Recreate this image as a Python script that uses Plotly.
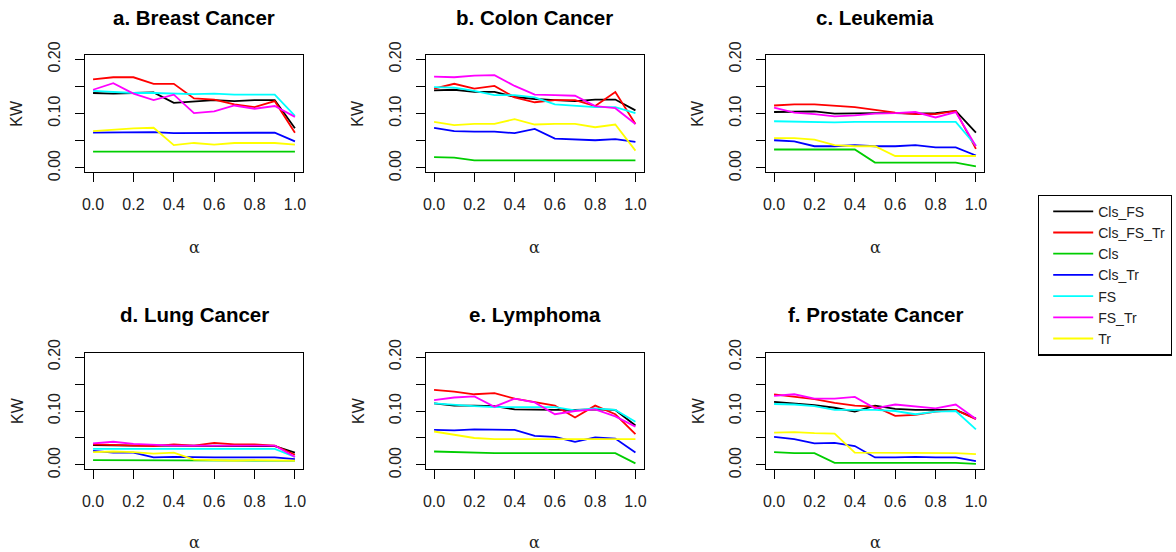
import plotly.graph_objects as go

alpha = [0.0, 0.1, 0.2, 0.3, 0.4, 0.5, 0.6, 0.7, 0.8, 0.9, 1.0]
series_names = ["Cls_FS", "Cls_FS_Tr", "Cls", "Cls_Tr", "FS", "FS_Tr", "Tr"]
series_colors = ["#000000", "#FF0000", "#00CD00", "#0000FF", "#00FFFF", "#FF00FF", "#FFFF00"]
panel_titles = ["a. Breast Cancer", "b. Colon Cancer", "c. Leukemia",
                "d. Lung Cancer", "e. Lymphoma", "f. Prostate Cancer"]
y_tick_vals = [0.0, 0.05, 0.10, 0.15, 0.20]
y_tick_text = ["0.00", "", "0.10", "", "0.20"]
x_tick_vals = [0.0, 0.2, 0.4, 0.6, 0.8, 1.0]
x_tick_text = ["0.0", "0.2", "0.4", "0.6", "0.8", "1.0"]

# a. Breast Cancer
breast_cls_fs    = [0.138, 0.137, 0.138, 0.139, 0.120, 0.123, 0.125, 0.123, 0.125, 0.125, 0.073]
breast_cls_fs_tr = [0.163, 0.167, 0.167, 0.155, 0.155, 0.128, 0.126, 0.117, 0.112, 0.123, 0.065]
breast_cls       = [0.030, 0.030, 0.030, 0.030, 0.030, 0.030, 0.030, 0.030, 0.030, 0.030, 0.030]
breast_cls_tr    = [0.065, 0.065, 0.065, 0.066, 0.064, 0.064, 0.064, 0.065, 0.065, 0.065, 0.049]
breast_fs        = [0.142, 0.140, 0.138, 0.138, 0.137, 0.136, 0.137, 0.135, 0.135, 0.135, 0.096]
breast_fs_tr     = [0.144, 0.156, 0.137, 0.125, 0.135, 0.101, 0.104, 0.115, 0.109, 0.114, 0.094]
breast_tr        = [0.068, 0.071, 0.073, 0.074, 0.042, 0.046, 0.043, 0.046, 0.046, 0.046, 0.043]

# b. Colon Cancer
colon_cls_fs    = [0.143, 0.144, 0.140, 0.140, 0.131, 0.127, 0.125, 0.123, 0.126, 0.126, 0.106]
colon_cls_fs_tr = [0.146, 0.155, 0.146, 0.151, 0.130, 0.121, 0.125, 0.125, 0.114, 0.140, 0.081]
colon_cls       = [0.020, 0.019, 0.014, 0.014, 0.014, 0.014, 0.014, 0.014, 0.014, 0.014, 0.014]
colon_cls_tr    = [0.074, 0.068, 0.067, 0.067, 0.064, 0.072, 0.054, 0.053, 0.051, 0.053, 0.048]
colon_fs        = [0.149, 0.148, 0.142, 0.134, 0.134, 0.130, 0.117, 0.114, 0.112, 0.112, 0.101]
colon_fs_tr     = [0.168, 0.167, 0.170, 0.171, 0.151, 0.135, 0.134, 0.133, 0.114, 0.110, 0.081]
colon_tr        = [0.085, 0.079, 0.081, 0.081, 0.090, 0.080, 0.081, 0.081, 0.075, 0.080, 0.032]

# c. Leukemia
leuk_cls_fs    = [0.103, 0.104, 0.104, 0.100, 0.101, 0.101, 0.101, 0.100, 0.101, 0.105, 0.065]
leuk_cls_fs_tr = [0.115, 0.117, 0.117, 0.115, 0.112, 0.107, 0.102, 0.099, 0.099, 0.105, 0.035]
leuk_cls       = [0.034, 0.034, 0.034, 0.034, 0.034, 0.010, 0.010, 0.010, 0.010, 0.010, 0.003]
leuk_cls_tr    = [0.051, 0.049, 0.040, 0.040, 0.042, 0.040, 0.040, 0.042, 0.038, 0.038, 0.023]
leuk_fs        = [0.086, 0.085, 0.085, 0.084, 0.085, 0.085, 0.085, 0.085, 0.085, 0.085, 0.041]
leuk_fs_tr     = [0.111, 0.102, 0.099, 0.095, 0.097, 0.100, 0.101, 0.103, 0.093, 0.103, 0.040]
leuk_tr        = [0.055, 0.055, 0.052, 0.042, 0.040, 0.040, 0.022, 0.022, 0.022, 0.022, 0.022]

# d. Lung Cancer
lung_cls_fs    = [0.037, 0.036, 0.036, 0.036, 0.036, 0.036, 0.036, 0.036, 0.035, 0.035, 0.023]
lung_cls_fs_tr = [0.038, 0.037, 0.037, 0.035, 0.038, 0.036, 0.041, 0.038, 0.038, 0.036, 0.019]
lung_cls       = [0.009, 0.009, 0.009, 0.009, 0.009, 0.009, 0.009, 0.009, 0.009, 0.009, 0.008]
lung_cls_tr    = [0.026, 0.023, 0.023, 0.014, 0.015, 0.014, 0.014, 0.014, 0.014, 0.014, 0.011]
lung_fs        = [0.030, 0.030, 0.030, 0.030, 0.030, 0.030, 0.030, 0.030, 0.030, 0.030, 0.015]
lung_fs_tr     = [0.040, 0.043, 0.039, 0.037, 0.036, 0.036, 0.036, 0.037, 0.037, 0.036, 0.015]
lung_tr        = [0.024, 0.025, 0.024, 0.021, 0.023, 0.010, 0.009, 0.008, 0.009, 0.009, 0.008]

# e. Lymphoma
lymph_cls_fs    = [0.114, 0.110, 0.110, 0.109, 0.103, 0.102, 0.102, 0.102, 0.103, 0.102, 0.073]
lymph_cls_fs_tr = [0.139, 0.136, 0.131, 0.133, 0.123, 0.117, 0.110, 0.088, 0.110, 0.094, 0.057]
lymph_cls       = [0.025, 0.024, 0.022, 0.022, 0.022, 0.022, 0.022, 0.022, 0.022, 0.022, 0.003]
lymph_cls_tr    = [0.065, 0.064, 0.066, 0.065, 0.065, 0.054, 0.052, 0.043, 0.051, 0.049, 0.023]
lymph_fs        = [0.114, 0.111, 0.109, 0.107, 0.107, 0.107, 0.107, 0.101, 0.105, 0.102, 0.080]
lymph_fs_tr     = [0.120, 0.125, 0.127, 0.108, 0.123, 0.116, 0.094, 0.100, 0.103, 0.090, 0.071]
lymph_tr        = [0.062, 0.056, 0.050, 0.048, 0.048, 0.048, 0.047, 0.047, 0.047, 0.047, 0.048]

# f. Prostate Cancer
prost_cls_fs    = [0.117, 0.114, 0.111, 0.106, 0.099, 0.110, 0.104, 0.102, 0.102, 0.102, 0.086]
prost_cls_fs_tr = [0.131, 0.127, 0.122, 0.115, 0.110, 0.108, 0.091, 0.093, 0.099, 0.102, 0.085]
prost_cls       = [0.024, 0.022, 0.022, 0.004, 0.004, 0.004, 0.004, 0.004, 0.004, 0.004, 0.002]
prost_cls_tr    = [0.052, 0.048, 0.040, 0.041, 0.035, 0.014, 0.014, 0.015, 0.014, 0.014, 0.007]
prost_fs        = [0.113, 0.112, 0.109, 0.102, 0.102, 0.102, 0.100, 0.094, 0.099, 0.100, 0.066]
prost_fs_tr     = [0.128, 0.131, 0.123, 0.123, 0.126, 0.105, 0.112, 0.108, 0.105, 0.112, 0.085]
prost_tr        = [0.060, 0.061, 0.059, 0.058, 0.023, 0.023, 0.023, 0.023, 0.022, 0.022, 0.020]

panels = [
    [breast_cls_fs, breast_cls_fs_tr, breast_cls, breast_cls_tr, breast_fs, breast_fs_tr, breast_tr],
    [colon_cls_fs, colon_cls_fs_tr, colon_cls, colon_cls_tr, colon_fs, colon_fs_tr, colon_tr],
    [leuk_cls_fs, leuk_cls_fs_tr, leuk_cls, leuk_cls_tr, leuk_fs, leuk_fs_tr, leuk_tr],
    [lung_cls_fs, lung_cls_fs_tr, lung_cls, lung_cls_tr, lung_fs, lung_fs_tr, lung_tr],
    [lymph_cls_fs, lymph_cls_fs_tr, lymph_cls, lymph_cls_tr, lymph_fs, lymph_fs_tr, lymph_tr],
    [prost_cls_fs, prost_cls_fs_tr, prost_cls, prost_cls_tr, prost_fs, prost_fs_tr, prost_tr],
]

W, H = 1176, 552
# frame pixel positions (left, right) per column and (top, bottom) per row
col_px = [(85, 303), (426, 643.5), (766, 984)]
row_px = [(55, 172.3), (352.7, 469.3)]
title_y_px = [17.5, 314]
xlab_y_px = [247, 542]

FONT = "Liberation Sans, Arial, Helvetica, sans-serif"

fig = go.Figure()
annotations = []
layout_axes = {}
for i, data in enumerate(panels):
    r, c = divmod(i, 3)
    n = i + 1
    xa = "x" if n == 1 else f"x{n}"
    ya = "y" if n == 1 else f"y{n}"
    for k, vals in enumerate(data):
        fig.add_trace(go.Scatter(
            x=alpha, y=vals, mode="lines", name=series_names[k],
            line=dict(color=series_colors[k], width=1.8),
            xaxis=xa, yaxis=ya, showlegend=(i == 0), legendrank=k + 1,
        ))
    x0, x1 = col_px[c]
    t0, t1 = row_px[r]
    layout_axes["xaxis" if n == 1 else f"xaxis{n}"] = dict(
        domain=[x0 / W, x1 / W], anchor=ya, range=[-0.04, 1.04], automargin=False,
        tickvals=x_tick_vals, ticktext=x_tick_text, ticks="outside", ticklen=9,
        tickcolor="black", tickwidth=1, showline=True, mirror=True, linecolor="black",
        linewidth=1.2, showgrid=False, zeroline=False, ticklabelstandoff=8,
        tickfont=dict(family=FONT, size=16, color="#222"),
    )
    layout_axes["yaxis" if n == 1 else f"yaxis{n}"] = dict(
        domain=[1 - t1 / H, 1 - t0 / H], anchor=xa, range=[-0.008, 0.208], automargin=False,
        tickvals=y_tick_vals, ticktext=y_tick_text, ticks="outside", ticklen=9,
        tickcolor="black", tickwidth=1, showline=True, mirror=True, linecolor="black",
        linewidth=1.2, showgrid=False, zeroline=False, tickangle=-90,
        ticklabelstandoff=9,
        tickfont=dict(family=FONT, size=16, color="#222"),
    )
    xc = (x0 + x1) / 2 / W
    annotations.append(dict(text=f"<b>{panel_titles[i]}</b>", x=xc, y=1 - title_y_px[r] / H,
                            xref="paper", yref="paper", showarrow=False,
                            xanchor="center", yanchor="middle",
                            font=dict(family=FONT, size=20.5, color="black")))
    annotations.append(dict(text="α", x=xc, y=1 - xlab_y_px[r] / H,
                            xref="paper", yref="paper", showarrow=False,
                            xanchor="center", yanchor="middle",
                            font=dict(family="DejaVu Serif, serif", size=16, color="#222")))
    annotations.append(dict(text="KW", x=(x0 - 68) / W, y=1 - (t0 + t1) / 2 / H,
                            xref="paper", yref="paper", showarrow=False, textangle=-90,
                            xanchor="center", yanchor="middle",
                            font=dict(family=FONT, size=16, color="#222")))

fig.update_layout(
    width=W, height=H, autosize=False,
    margin=dict(l=0, r=0, t=0, b=0, autoexpand=False),
    paper_bgcolor="white", plot_bgcolor="white",
    annotations=annotations,
    legend=dict(x=1038 / W, y=1 - 194.5 / H, xanchor="left", yanchor="top",
                bordercolor="black", borderwidth=1.2, bgcolor="white",
                font=dict(family=FONT, size=14, color="#222"),
                itemwidth=40, indentation=9, traceorder="normal"),
    showlegend=True,
    **layout_axes,
)

fig.write_html("out.html", config={"displayModeBar": False},
               post_script="document.body.style.margin='0';")
